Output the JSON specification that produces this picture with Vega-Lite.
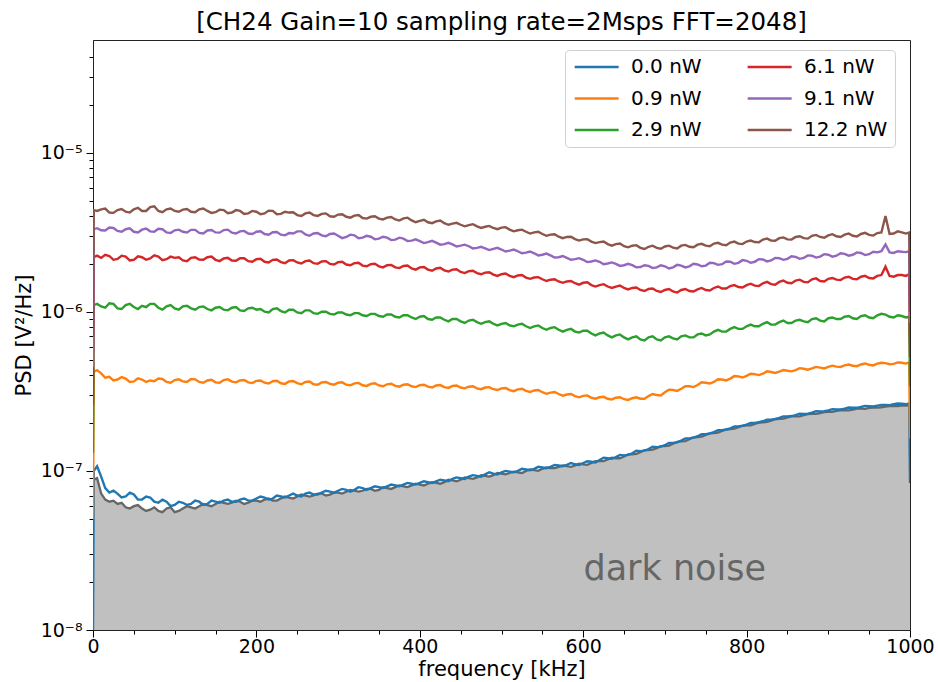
{
  "$schema": "https://vega.github.io/schema/vega-lite/v6.json",
  "width": 817,
  "height": 590,
  "autosize": {"type": "none"},
  "padding": {"left": 93, "top": 40, "right": 28, "bottom": 52},
  "background": "white",
  "title": {"text": "[CH24 Gain=10 sampling rate=2Msps FFT=2048]", "font": "DejaVu Sans", "fontSize": 24.5, "fontWeight": "normal", "color": "black", "offset": 5, "frame": "group"},
  "config": {
    "view": {"stroke": "#222", "strokeWidth": 1},
    "axis": {"labelFont": "DejaVu Sans", "titleFont": "DejaVu Sans", "labelFontSize": 19, "titleFontSize": 21, "labelColor": "black", "titleColor": "black", "tickColor": "black", "domainColor": "#222", "grid": false, "titleFontWeight": "normal", "labelOverlap": false, "labelFlush": false}
  },
  "datasets": {
    "psd": [
      {"f":0,"d":8.5e-8,"a":1e-8,"b":5e-8,"c":1.3e-7,"e":2.6e-7,"g":4.5e-7,"h":7e-7},
      {"f":1,"d":8.8e-8,"a":1.0e-7,"b":4.2e-7,"c":1.1e-6,"e":2.2e-6,"g":3.3e-6,"h":4.35e-6},
      {"f":5,"d":9e-8,"a":1.07e-7,"b":4.3e-7,"c":1.12e-6,"e":2.25e-6,"g":3.35e-6,"h":4.3e-6},
      {"f":10,"d":7.2e-8,"a":9.2e-8,"b":4.1e-7,"c":1.08e-6,"e":2.18e-6,"g":3.25e-6,"h":4.4e-6},
      {"f":15,"d":6.6e-8,"a":7.8e-8,"b":3.85e-7,"c":1.06e-6,"e":2.28e-6,"g":3.24e-6,"h":4.45e-6},
      {"f":20,"d":6.4e-8,"a":7.3e-8,"b":3.9e-7,"c":1.13e-6,"e":2.24e-6,"g":3.38e-6,"h":4.2e-6},
      {"f":25,"d":6.5e-8,"a":7.5e-8,"b":3.7e-7,"c":1.12e-6,"e":2.12e-6,"g":3.36e-6,"h":4.18e-6},
      {"f":30,"d":6.2e-8,"a":7.2e-8,"b":3.75e-7,"c":1.05e-6,"e":2.15e-6,"g":3.22e-6,"h":4.35e-6},
      {"f":35,"d":6.3e-8,"a":6.8e-8,"b":3.88e-7,"c":1.04e-6,"e":2.25e-6,"g":3.18e-6,"h":4.42e-6},
      {"f":40,"d":5.9e-8,"a":6.9e-8,"b":3.8e-7,"c":1.1e-6,"e":2.22e-6,"g":3.3e-6,"h":4.25e-6},
      {"f":45,"d":5.8e-8,"a":7.3e-8,"b":3.62e-7,"c":1.12e-6,"e":2.1e-6,"g":3.34e-6,"h":4.2e-6},
      {"f":50,"d":6.0e-8,"a":7.1e-8,"b":3.65e-7,"c":1.07e-6,"e":2.12e-6,"g":3.18e-6,"h":4.4e-6},
      {"f":55,"d":6.1e-8,"a":6.6e-8,"b":3.82e-7,"c":1.04e-6,"e":2.23e-6,"g":3.15e-6,"h":4.5e-6},
      {"f":60,"d":5.8e-8,"a":6.6e-8,"b":3.75e-7,"c":1.09e-6,"e":2.2e-6,"g":3.28e-6,"h":4.3e-6},
      {"f":65,"d":5.6e-8,"a":6.9e-8,"b":3.62e-7,"c":1.07e-6,"e":2.12e-6,"g":3.33e-6,"h":4.3e-6},
      {"f":70,"d":5.7e-8,"a":6.8e-8,"b":3.7e-7,"c":1.12e-6,"e":2.16e-6,"g":3.2e-6,"h":4.55e-6},
      {"f":75,"d":5.9e-8,"a":6.4e-8,"b":3.66e-7,"c":1.12e-6,"e":2.26e-6,"g":3.18e-6,"h":4.6e-6},
      {"f":80,"d":5.6e-8,"a":6.3e-8,"b":3.8e-7,"c":1.06e-6,"e":2.22e-6,"g":3.32e-6,"h":4.3e-6},
      {"f":85,"d":5.5e-8,"a":6.6e-8,"b":3.78e-7,"c":1.03e-6,"e":2.11e-6,"g":3.3e-6,"h":4.22e-6},
      {"f":90,"d":5.8e-8,"a":6.4e-8,"b":3.62e-7,"c":1.08e-6,"e":2.14e-6,"g":3.15e-6,"h":4.4e-6},
      {"f":95,"d":5.9e-8,"a":6.0e-8,"b":3.58e-7,"c":1.1e-6,"e":2.22e-6,"g":3.12e-6,"h":4.45e-6},
      {"f":100,"d":5.5e-8,"a":6.1e-8,"b":3.72e-7,"c":1.05e-6,"e":2.18e-6,"g":3.25e-6,"h":4.3e-6},
      {"f":105,"d":5.6e-8,"a":6.4e-8,"b":3.76e-7,"c":1.03e-6,"e":2.2e-6,"g":3.28e-6,"h":4.25e-6},
      {"f":110,"d":5.8e-8,"a":6.3e-8,"b":3.65e-7,"c":1.08e-6,"e":2.1e-6,"g":3.18e-6,"h":4.38e-6},
      {"f":115,"d":6.0e-8,"a":6.1e-8,"b":3.62e-7,"c":1.09e-6,"e":2.08e-6,"g":3.15e-6,"h":4.42e-6},
      {"f":120,"d":5.9e-8,"a":6.2e-8,"b":3.78e-7,"c":1.05e-6,"e":2.18e-6,"g":3.27e-6,"h":4.25e-6},
      {"f":125,"d":5.8e-8,"a":6.5e-8,"b":3.76e-7,"c":1.03e-6,"e":2.2e-6,"g":3.27e-6,"h":4.22e-6},
      {"f":130,"d":6.0e-8,"a":6.4e-8,"b":3.62e-7,"c":1.07e-6,"e":2.13e-6,"g":3.13e-6,"h":4.4e-6},
      {"f":135,"d":6.2e-8,"a":6.1e-8,"b":3.58e-7,"c":1.08e-6,"e":2.12e-6,"g":3.1e-6,"h":4.45e-6},
      {"f":140,"d":6.1e-8,"a":6.2e-8,"b":3.7e-7,"c":1.04e-6,"e":2.2e-6,"g":3.24e-6,"h":4.3e-6},
      {"f":145,"d":6.0e-8,"a":6.5e-8,"b":3.74e-7,"c":1.02e-6,"e":2.22e-6,"g":3.26e-6,"h":4.18e-6},
      {"f":150,"d":6.2e-8,"a":6.4e-8,"b":3.6e-7,"c":1.06e-6,"e":2.12e-6,"g":3.15e-6,"h":4.22e-6},
      {"f":155,"d":6.4e-8,"a":6.3e-8,"b":3.58e-7,"c":1.07e-6,"e":2.08e-6,"g":3.14e-6,"h":4.38e-6},
      {"f":160,"d":6.3e-8,"a":6.5e-8,"b":3.72e-7,"c":1.03e-6,"e":2.16e-6,"g":3.26e-6,"h":4.35e-6},
      {"f":165,"d":6.2e-8,"a":6.6e-8,"b":3.76e-7,"c":1.02e-6,"e":2.18e-6,"g":3.28e-6,"h":4.16e-6},
      {"f":170,"d":6.3e-8,"a":6.4e-8,"b":3.64e-7,"c":1.06e-6,"e":2.1e-6,"g":3.14e-6,"h":4.2e-6},
      {"f":175,"d":6.5e-8,"a":6.4e-8,"b":3.6e-7,"c":1.07e-6,"e":2.09e-6,"g":3.1e-6,"h":4.35e-6},
      {"f":180,"d":6.4e-8,"a":6.6e-8,"b":3.7e-7,"c":1.02e-6,"e":2.17e-6,"g":3.2e-6,"h":4.3e-6},
      {"f":185,"d":6.2e-8,"a":6.7e-8,"b":3.72e-7,"c":1.01e-6,"e":2.17e-6,"g":3.22e-6,"h":4.12e-6},
      {"f":190,"d":6.3e-8,"a":6.5e-8,"b":3.6e-7,"c":1.05e-6,"e":2.08e-6,"g":3.1e-6,"h":4.15e-6},
      {"f":195,"d":6.5e-8,"a":6.5e-8,"b":3.56e-7,"c":1.06e-6,"e":2.06e-6,"g":3.08e-6,"h":4.3e-6},
      {"f":200,"d":6.5e-8,"a":6.7e-8,"b":3.68e-7,"c":1.03e-6,"e":2.14e-6,"g":3.18e-6,"h":4.25e-6},
      {"f":205,"d":6.4e-8,"a":6.9e-8,"b":3.7e-7,"c":1.04e-6,"e":2.15e-6,"g":3.2e-6,"h":4.1e-6},
      {"f":210,"d":6.6e-8,"a":6.8e-8,"b":3.58e-7,"c":1.0e-6,"e":2.06e-6,"g":3.08e-6,"h":4.15e-6},
      {"f":215,"d":6.7e-8,"a":6.6e-8,"b":3.54e-7,"c":9.9e-7,"e":2.04e-6,"g":3.05e-6,"h":4.32e-6},
      {"f":220,"d":6.5e-8,"a":6.7e-8,"b":3.66e-7,"c":1.04e-6,"e":2.12e-6,"g":3.16e-6,"h":4.3e-6},
      {"f":225,"d":6.5e-8,"a":7.0e-8,"b":3.68e-7,"c":1.05e-6,"e":2.13e-6,"g":3.17e-6,"h":4.1e-6},
      {"f":230,"d":6.7e-8,"a":6.9e-8,"b":3.55e-7,"c":1.01e-6,"e":2.05e-6,"g":3.05e-6,"h":4.12e-6},
      {"f":235,"d":6.9e-8,"a":6.8e-8,"b":3.52e-7,"c":9.9e-7,"e":2.02e-6,"g":3.02e-6,"h":4.25e-6},
      {"f":240,"d":6.8e-8,"a":7.0e-8,"b":3.65e-7,"c":1.03e-6,"e":2.1e-6,"g":3.12e-6,"h":4.2e-6},
      {"f":245,"d":6.7e-8,"a":7.2e-8,"b":3.67e-7,"c":1.03e-6,"e":2.11e-6,"g":3.1e-6,"h":4.22e-6},
      {"f":250,"d":6.9e-8,"a":7.0e-8,"b":3.56e-7,"c":9.9e-7,"e":2.04e-6,"g":3.2e-6,"h":4.05e-6},
      {"f":255,"d":7.1e-8,"a":6.9e-8,"b":3.5e-7,"c":9.8e-7,"e":2.01e-6,"g":3.2e-6,"h":4.0e-6},
      {"f":260,"d":7.0e-8,"a":7.2e-8,"b":3.62e-7,"c":1.02e-6,"e":2.08e-6,"g":3.06e-6,"h":4.15e-6},
      {"f":265,"d":6.9e-8,"a":7.3e-8,"b":3.64e-7,"c":1.02e-6,"e":2.1e-6,"g":3.0e-6,"h":4.2e-6},
      {"f":270,"d":7.0e-8,"a":7.1e-8,"b":3.5e-7,"c":9.8e-7,"e":2.02e-6,"g":3.1e-6,"h":4.05e-6},
      {"f":275,"d":7.2e-8,"a":7.1e-8,"b":3.48e-7,"c":9.7e-7,"e":2.0e-6,"g":3.12e-6,"h":4.0e-6},
      {"f":280,"d":7.2e-8,"a":7.3e-8,"b":3.6e-7,"c":1.0e-6,"e":2.07e-6,"g":3.02e-6,"h":4.12e-6},
      {"f":285,"d":7.0e-8,"a":7.5e-8,"b":3.62e-7,"c":1.0e-6,"e":2.08e-6,"g":2.98e-6,"h":4.15e-6},
      {"f":290,"d":7.1e-8,"a":7.4e-8,"b":3.52e-7,"c":9.7e-7,"e":2.0e-6,"g":3.08e-6,"h":3.98e-6},
      {"f":295,"d":7.3e-8,"a":7.3e-8,"b":3.48e-7,"c":9.6e-7,"e":1.98e-6,"g":3.1e-6,"h":3.95e-6},
      {"f":300,"d":7.3e-8,"a":7.5e-8,"b":3.58e-7,"c":9.9e-7,"e":2.05e-6,"g":3.0e-6,"h":4.08e-6},
      {"f":305,"d":7.2e-8,"a":7.7e-8,"b":3.6e-7,"c":9.9e-7,"e":2.06e-6,"g":2.9e-6,"h":4.1e-6},
      {"f":310,"d":7.4e-8,"a":7.6e-8,"b":3.48e-7,"c":9.6e-7,"e":1.98e-6,"g":2.95e-6,"h":3.95e-6},
      {"f":315,"d":7.6e-8,"a":7.4e-8,"b":3.45e-7,"c":9.5e-7,"e":1.96e-6,"g":3.05e-6,"h":3.9e-6},
      {"f":320,"d":7.5e-8,"a":7.6e-8,"b":3.55e-7,"c":9.8e-7,"e":2.02e-6,"g":3.02e-6,"h":4.02e-6},
      {"f":325,"d":7.4e-8,"a":7.9e-8,"b":3.57e-7,"c":9.8e-7,"e":2.03e-6,"g":2.9e-6,"h":4.05e-6},
      {"f":330,"d":7.5e-8,"a":7.8e-8,"b":3.45e-7,"c":9.5e-7,"e":1.95e-6,"g":2.92e-6,"h":3.88e-6},
      {"f":335,"d":7.7e-8,"a":7.6e-8,"b":3.42e-7,"c":9.4e-7,"e":1.93e-6,"g":3.0e-6,"h":3.85e-6},
      {"f":340,"d":7.7e-8,"a":7.8e-8,"b":3.52e-7,"c":9.7e-7,"e":1.99e-6,"g":2.96e-6,"h":3.95e-6},
      {"f":345,"d":7.5e-8,"a":8.0e-8,"b":3.55e-7,"c":9.7e-7,"e":2.0e-6,"g":2.85e-6,"h":3.98e-6},
      {"f":350,"d":7.6e-8,"a":7.9e-8,"b":3.44e-7,"c":9.4e-7,"e":1.93e-6,"g":2.88e-6,"h":3.85e-6},
      {"f":355,"d":7.9e-8,"a":7.8e-8,"b":3.4e-7,"c":9.3e-7,"e":1.9e-6,"g":2.96e-6,"h":3.8e-6},
      {"f":360,"d":7.8e-8,"a":8.0e-8,"b":3.5e-7,"c":9.6e-7,"e":1.96e-6,"g":2.92e-6,"h":3.9e-6},
      {"f":365,"d":7.7e-8,"a":8.2e-8,"b":3.53e-7,"c":9.6e-7,"e":1.97e-6,"g":2.82e-6,"h":3.94e-6},
      {"f":370,"d":7.9e-8,"a":8.1e-8,"b":3.42e-7,"c":9.3e-7,"e":1.9e-6,"g":2.84e-6,"h":3.8e-6},
      {"f":375,"d":8.1e-8,"a":8.0e-8,"b":3.38e-7,"c":9.2e-7,"e":1.88e-6,"g":2.92e-6,"h":3.74e-6},
      {"f":380,"d":8.0e-8,"a":8.2e-8,"b":3.48e-7,"c":9.5e-7,"e":1.94e-6,"g":2.88e-6,"h":3.86e-6},
      {"f":385,"d":7.9e-8,"a":8.4e-8,"b":3.5e-7,"c":9.5e-7,"e":1.95e-6,"g":2.78e-6,"h":3.9e-6},
      {"f":390,"d":8.1e-8,"a":8.3e-8,"b":3.4e-7,"c":9.2e-7,"e":1.87e-6,"g":2.8e-6,"h":3.75e-6},
      {"f":395,"d":8.3e-8,"a":8.2e-8,"b":3.36e-7,"c":9.0e-7,"e":1.84e-6,"g":2.85e-6,"h":3.65e-6},
      {"f":400,"d":8.2e-8,"a":8.4e-8,"b":3.46e-7,"c":9.3e-7,"e":1.9e-6,"g":2.78e-6,"h":3.72e-6},
      {"f":405,"d":8.1e-8,"a":8.6e-8,"b":3.48e-7,"c":9.4e-7,"e":1.91e-6,"g":2.7e-6,"h":3.78e-6},
      {"f":410,"d":8.3e-8,"a":8.5e-8,"b":3.38e-7,"c":9.0e-7,"e":1.84e-6,"g":2.74e-6,"h":3.65e-6},
      {"f":415,"d":8.5e-8,"a":8.4e-8,"b":3.34e-7,"c":8.9e-7,"e":1.81e-6,"g":2.79e-6,"h":3.6e-6},
      {"f":420,"d":8.4e-8,"a":8.6e-8,"b":3.44e-7,"c":9.2e-7,"e":1.87e-6,"g":2.72e-6,"h":3.7e-6},
      {"f":425,"d":8.3e-8,"a":8.8e-8,"b":3.46e-7,"c":9.2e-7,"e":1.89e-6,"g":2.64e-6,"h":3.74e-6},
      {"f":430,"d":8.5e-8,"a":8.7e-8,"b":3.36e-7,"c":8.9e-7,"e":1.82e-6,"g":2.66e-6,"h":3.6e-6},
      {"f":435,"d":8.8e-8,"a":8.6e-8,"b":3.32e-7,"c":8.7e-7,"e":1.79e-6,"g":2.71e-6,"h":3.52e-6},
      {"f":440,"d":8.7e-8,"a":8.9e-8,"b":3.42e-7,"c":9.0e-7,"e":1.84e-6,"g":2.65e-6,"h":3.58e-6},
      {"f":445,"d":8.6e-8,"a":9.1e-8,"b":3.44e-7,"c":9.0e-7,"e":1.85e-6,"g":2.57e-6,"h":3.62e-6},
      {"f":450,"d":8.8e-8,"a":9.0e-8,"b":3.34e-7,"c":8.7e-7,"e":1.78e-6,"g":2.6e-6,"h":3.52e-6},
      {"f":455,"d":9.1e-8,"a":8.9e-8,"b":3.3e-7,"c":8.5e-7,"e":1.75e-6,"g":2.64e-6,"h":3.44e-6},
      {"f":460,"d":9.0e-8,"a":9.2e-8,"b":3.38e-7,"c":8.8e-7,"e":1.8e-6,"g":2.58e-6,"h":3.5e-6},
      {"f":465,"d":8.9e-8,"a":9.4e-8,"b":3.4e-7,"c":8.9e-7,"e":1.81e-6,"g":2.5e-6,"h":3.55e-6},
      {"f":470,"d":9.1e-8,"a":9.3e-8,"b":3.3e-7,"c":8.6e-7,"e":1.75e-6,"g":2.52e-6,"h":3.44e-6},
      {"f":475,"d":9.4e-8,"a":9.2e-8,"b":3.26e-7,"c":8.4e-7,"e":1.72e-6,"g":2.56e-6,"h":3.36e-6},
      {"f":480,"d":9.3e-8,"a":9.5e-8,"b":3.34e-7,"c":8.6e-7,"e":1.76e-6,"g":2.5e-6,"h":3.42e-6},
      {"f":485,"d":9.2e-8,"a":9.8e-8,"b":3.36e-7,"c":8.7e-7,"e":1.77e-6,"g":2.44e-6,"h":3.46e-6},
      {"f":490,"d":9.4e-8,"a":9.6e-8,"b":3.26e-7,"c":8.4e-7,"e":1.71e-6,"g":2.48e-6,"h":3.36e-6},
      {"f":495,"d":9.7e-8,"a":9.5e-8,"b":3.22e-7,"c":8.2e-7,"e":1.68e-6,"g":2.52e-6,"h":3.3e-6},
      {"f":500,"d":9.6e-8,"a":9.8e-8,"b":3.3e-7,"c":8.4e-7,"e":1.72e-6,"g":2.46e-6,"h":3.38e-6},
      {"f":505,"d":9.5e-8,"a":1.0e-7,"b":3.32e-7,"c":8.5e-7,"e":1.74e-6,"g":2.39e-6,"h":3.4e-6},
      {"f":510,"d":9.7e-8,"a":9.9e-8,"b":3.22e-7,"c":8.2e-7,"e":1.68e-6,"g":2.42e-6,"h":3.28e-6},
      {"f":515,"d":9.9e-8,"a":9.8e-8,"b":3.17e-7,"c":8.1e-7,"e":1.65e-6,"g":2.46e-6,"h":3.2e-6},
      {"f":520,"d":9.8e-8,"a":1.0e-7,"b":3.25e-7,"c":8.3e-7,"e":1.69e-6,"g":2.4e-6,"h":3.25e-6},
      {"f":525,"d":9.7e-8,"a":1.03e-7,"b":3.28e-7,"c":8.4e-7,"e":1.7e-6,"g":2.33e-6,"h":3.28e-6},
      {"f":530,"d":1.0e-7,"a":1.02e-7,"b":3.18e-7,"c":8.1e-7,"e":1.64e-6,"g":2.35e-6,"h":3.18e-6},
      {"f":535,"d":1.02e-7,"a":1.01e-7,"b":3.13e-7,"c":7.9e-7,"e":1.61e-6,"g":2.39e-6,"h":3.1e-6},
      {"f":540,"d":1.01e-7,"a":1.03e-7,"b":3.2e-7,"c":8.1e-7,"e":1.64e-6,"g":2.33e-6,"h":3.15e-6},
      {"f":545,"d":1.0e-7,"a":1.06e-7,"b":3.22e-7,"c":8.2e-7,"e":1.65e-6,"g":2.26e-6,"h":3.18e-6},
      {"f":550,"d":1.03e-7,"a":1.05e-7,"b":3.12e-7,"c":7.9e-7,"e":1.6e-6,"g":2.28e-6,"h":3.08e-6},
      {"f":555,"d":1.05e-7,"a":1.04e-7,"b":3.05e-7,"c":7.7e-7,"e":1.56e-6,"g":2.32e-6,"h":3.0e-6},
      {"f":560,"d":1.04e-7,"a":1.06e-7,"b":3.1e-7,"c":7.9e-7,"e":1.59e-6,"g":2.26e-6,"h":3.05e-6},
      {"f":565,"d":1.04e-7,"a":1.09e-7,"b":3.13e-7,"c":8.0e-7,"e":1.6e-6,"g":2.19e-6,"h":3.07e-6},
      {"f":570,"d":1.06e-7,"a":1.08e-7,"b":3.04e-7,"c":7.7e-7,"e":1.55e-6,"g":2.2e-6,"h":2.96e-6},
      {"f":575,"d":1.08e-7,"a":1.07e-7,"b":2.97e-7,"c":7.5e-7,"e":1.52e-6,"g":2.24e-6,"h":2.9e-6},
      {"f":580,"d":1.07e-7,"a":1.09e-7,"b":3.02e-7,"c":7.7e-7,"e":1.55e-6,"g":2.18e-6,"h":2.95e-6},
      {"f":585,"d":1.06e-7,"a":1.12e-7,"b":3.04e-7,"c":7.8e-7,"e":1.56e-6,"g":2.12e-6,"h":2.96e-6},
      {"f":590,"d":1.08e-7,"a":1.1e-7,"b":2.95e-7,"c":7.5e-7,"e":1.51e-6,"g":2.14e-6,"h":2.86e-6},
      {"f":595,"d":1.11e-7,"a":1.09e-7,"b":2.9e-7,"c":7.4e-7,"e":1.48e-6,"g":2.17e-6,"h":2.8e-6},
      {"f":600,"d":1.1e-7,"a":1.12e-7,"b":2.96e-7,"c":7.6e-7,"e":1.52e-6,"g":2.12e-6,"h":2.85e-6},
      {"f":605,"d":1.09e-7,"a":1.15e-7,"b":2.98e-7,"c":7.6e-7,"e":1.53e-6,"g":2.05e-6,"h":2.86e-6},
      {"f":610,"d":1.12e-7,"a":1.14e-7,"b":2.88e-7,"c":7.3e-7,"e":1.47e-6,"g":2.07e-6,"h":2.76e-6},
      {"f":615,"d":1.15e-7,"a":1.13e-7,"b":2.84e-7,"c":7.1e-7,"e":1.44e-6,"g":2.1e-6,"h":2.7e-6},
      {"f":620,"d":1.15e-7,"a":1.17e-7,"b":2.9e-7,"c":7.3e-7,"e":1.47e-6,"g":2.06e-6,"h":2.74e-6},
      {"f":625,"d":1.15e-7,"a":1.21e-7,"b":2.92e-7,"c":7.4e-7,"e":1.49e-6,"g":1.99e-6,"h":2.76e-6},
      {"f":630,"d":1.18e-7,"a":1.2e-7,"b":2.84e-7,"c":7.1e-7,"e":1.44e-6,"g":2.01e-6,"h":2.66e-6},
      {"f":635,"d":1.21e-7,"a":1.19e-7,"b":2.81e-7,"c":6.9e-7,"e":1.41e-6,"g":2.04e-6,"h":2.6e-6},
      {"f":640,"d":1.2e-7,"a":1.22e-7,"b":2.88e-7,"c":7.1e-7,"e":1.44e-6,"g":2.0e-6,"h":2.66e-6},
      {"f":645,"d":1.2e-7,"a":1.26e-7,"b":2.9e-7,"c":7.2e-7,"e":1.46e-6,"g":1.94e-6,"h":2.68e-6},
      {"f":650,"d":1.23e-7,"a":1.25e-7,"b":2.82e-7,"c":6.9e-7,"e":1.41e-6,"g":1.96e-6,"h":2.58e-6},
      {"f":655,"d":1.27e-7,"a":1.26e-7,"b":2.79e-7,"c":6.7e-7,"e":1.38e-6,"g":2.0e-6,"h":2.54e-6},
      {"f":660,"d":1.27e-7,"a":1.29e-7,"b":2.86e-7,"c":6.9e-7,"e":1.41e-6,"g":1.96e-6,"h":2.6e-6},
      {"f":665,"d":1.28e-7,"a":1.34e-7,"b":2.9e-7,"c":7.0e-7,"e":1.42e-6,"g":1.9e-6,"h":2.62e-6},
      {"f":670,"d":1.31e-7,"a":1.33e-7,"b":2.84e-7,"c":6.7e-7,"e":1.37e-6,"g":1.91e-6,"h":2.52e-6},
      {"f":675,"d":1.35e-7,"a":1.34e-7,"b":2.84e-7,"c":6.6e-7,"e":1.35e-6,"g":1.96e-6,"h":2.48e-6},
      {"f":680,"d":1.35e-7,"a":1.37e-7,"b":2.95e-7,"c":6.9e-7,"e":1.39e-6,"g":1.94e-6,"h":2.56e-6},
      {"f":685,"d":1.36e-7,"a":1.42e-7,"b":3.04e-7,"c":7.0e-7,"e":1.4e-6,"g":1.88e-6,"h":2.6e-6},
      {"f":690,"d":1.39e-7,"a":1.41e-7,"b":3.0e-7,"c":6.7e-7,"e":1.35e-6,"g":1.9e-6,"h":2.52e-6},
      {"f":695,"d":1.43e-7,"a":1.42e-7,"b":2.98e-7,"c":6.6e-7,"e":1.33e-6,"g":1.96e-6,"h":2.49e-6},
      {"f":700,"d":1.43e-7,"a":1.45e-7,"b":3.12e-7,"c":6.9e-7,"e":1.37e-6,"g":1.93e-6,"h":2.57e-6},
      {"f":705,"d":1.44e-7,"a":1.5e-7,"b":3.24e-7,"c":7.0e-7,"e":1.39e-6,"g":1.87e-6,"h":2.6e-6},
      {"f":710,"d":1.48e-7,"a":1.5e-7,"b":3.22e-7,"c":6.8e-7,"e":1.34e-6,"g":1.9e-6,"h":2.53e-6},
      {"f":715,"d":1.52e-7,"a":1.51e-7,"b":3.18e-7,"c":6.7e-7,"e":1.32e-6,"g":1.97e-6,"h":2.5e-6},
      {"f":720,"d":1.53e-7,"a":1.55e-7,"b":3.28e-7,"c":7.0e-7,"e":1.37e-6,"g":1.95e-6,"h":2.6e-6},
      {"f":725,"d":1.54e-7,"a":1.6e-7,"b":3.4e-7,"c":7.1e-7,"e":1.39e-6,"g":1.9e-6,"h":2.63e-6},
      {"f":730,"d":1.58e-7,"a":1.6e-7,"b":3.4e-7,"c":6.9e-7,"e":1.35e-6,"g":1.93e-6,"h":2.56e-6},
      {"f":735,"d":1.62e-7,"a":1.62e-7,"b":3.36e-7,"c":6.9e-7,"e":1.34e-6,"g":2.0e-6,"h":2.54e-6},
      {"f":740,"d":1.63e-7,"a":1.65e-7,"b":3.46e-7,"c":7.2e-7,"e":1.38e-6,"g":1.98e-6,"h":2.64e-6},
      {"f":745,"d":1.64e-7,"a":1.7e-7,"b":3.6e-7,"c":7.3e-7,"e":1.41e-6,"g":1.93e-6,"h":2.67e-6},
      {"f":750,"d":1.68e-7,"a":1.7e-7,"b":3.58e-7,"c":7.1e-7,"e":1.37e-6,"g":1.95e-6,"h":2.6e-6},
      {"f":755,"d":1.72e-7,"a":1.72e-7,"b":3.54e-7,"c":7.2e-7,"e":1.36e-6,"g":2.03e-6,"h":2.58e-6},
      {"f":760,"d":1.73e-7,"a":1.75e-7,"b":3.62e-7,"c":7.5e-7,"e":1.41e-6,"g":2.02e-6,"h":2.68e-6},
      {"f":765,"d":1.74e-7,"a":1.8e-7,"b":3.76e-7,"c":7.7e-7,"e":1.44e-6,"g":1.97e-6,"h":2.71e-6},
      {"f":770,"d":1.78e-7,"a":1.8e-7,"b":3.75e-7,"c":7.5e-7,"e":1.4e-6,"g":1.99e-6,"h":2.64e-6},
      {"f":775,"d":1.82e-7,"a":1.82e-7,"b":3.7e-7,"c":7.5e-7,"e":1.4e-6,"g":2.07e-6,"h":2.62e-6},
      {"f":780,"d":1.83e-7,"a":1.85e-7,"b":3.8e-7,"c":7.8e-7,"e":1.45e-6,"g":2.06e-6,"h":2.72e-6},
      {"f":785,"d":1.84e-7,"a":1.9e-7,"b":3.94e-7,"c":8.0e-7,"e":1.47e-6,"g":2.0e-6,"h":2.76e-6},
      {"f":790,"d":1.88e-7,"a":1.9e-7,"b":3.92e-7,"c":7.8e-7,"e":1.43e-6,"g":2.03e-6,"h":2.68e-6},
      {"f":795,"d":1.92e-7,"a":1.92e-7,"b":3.86e-7,"c":7.8e-7,"e":1.42e-6,"g":2.11e-6,"h":2.66e-6},
      {"f":800,"d":1.93e-7,"a":1.95e-7,"b":3.95e-7,"c":8.1e-7,"e":1.47e-6,"g":2.09e-6,"h":2.76e-6},
      {"f":805,"d":1.93e-7,"a":2.0e-7,"b":4.08e-7,"c":8.3e-7,"e":1.5e-6,"g":2.03e-6,"h":2.8e-6},
      {"f":810,"d":1.97e-7,"a":2.0e-7,"b":4.05e-7,"c":8.1e-7,"e":1.46e-6,"g":2.06e-6,"h":2.74e-6},
      {"f":815,"d":2.01e-7,"a":2.02e-7,"b":4.0e-7,"c":8.1e-7,"e":1.45e-6,"g":2.14e-6,"h":2.73e-6},
      {"f":820,"d":2.02e-7,"a":2.05e-7,"b":4.08e-7,"c":8.4e-7,"e":1.51e-6,"g":2.13e-6,"h":2.84e-6},
      {"f":825,"d":2.03e-7,"a":2.1e-7,"b":4.22e-7,"c":8.6e-7,"e":1.54e-6,"g":2.07e-6,"h":2.88e-6},
      {"f":830,"d":2.07e-7,"a":2.1e-7,"b":4.18e-7,"c":8.3e-7,"e":1.49e-6,"g":2.1e-6,"h":2.8e-6},
      {"f":835,"d":2.11e-7,"a":2.12e-7,"b":4.12e-7,"c":8.3e-7,"e":1.48e-6,"g":2.18e-6,"h":2.79e-6},
      {"f":840,"d":2.12e-7,"a":2.15e-7,"b":4.2e-7,"c":8.6e-7,"e":1.54e-6,"g":2.17e-6,"h":2.9e-6},
      {"f":845,"d":2.13e-7,"a":2.2e-7,"b":4.3e-7,"c":8.8e-7,"e":1.57e-6,"g":2.12e-6,"h":2.93e-6},
      {"f":850,"d":2.17e-7,"a":2.2e-7,"b":4.26e-7,"c":8.5e-7,"e":1.52e-6,"g":2.15e-6,"h":2.85e-6},
      {"f":855,"d":2.2e-7,"a":2.21e-7,"b":4.22e-7,"c":8.5e-7,"e":1.51e-6,"g":2.23e-6,"h":2.84e-6},
      {"f":860,"d":2.2e-7,"a":2.24e-7,"b":4.3e-7,"c":8.8e-7,"e":1.57e-6,"g":2.21e-6,"h":2.95e-6},
      {"f":865,"d":2.2e-7,"a":2.29e-7,"b":4.42e-7,"c":8.9e-7,"e":1.59e-6,"g":2.15e-6,"h":2.98e-6},
      {"f":870,"d":2.24e-7,"a":2.28e-7,"b":4.38e-7,"c":8.7e-7,"e":1.54e-6,"g":2.18e-6,"h":2.9e-6},
      {"f":875,"d":2.27e-7,"a":2.29e-7,"b":4.32e-7,"c":8.6e-7,"e":1.53e-6,"g":2.26e-6,"h":2.88e-6},
      {"f":880,"d":2.28e-7,"a":2.32e-7,"b":4.4e-7,"c":9.0e-7,"e":1.6e-6,"g":2.25e-6,"h":3.0e-6},
      {"f":885,"d":2.28e-7,"a":2.37e-7,"b":4.5e-7,"c":9.1e-7,"e":1.62e-6,"g":2.19e-6,"h":3.04e-6},
      {"f":890,"d":2.31e-7,"a":2.36e-7,"b":4.45e-7,"c":8.8e-7,"e":1.56e-6,"g":2.22e-6,"h":2.95e-6},
      {"f":895,"d":2.34e-7,"a":2.37e-7,"b":4.4e-7,"c":8.7e-7,"e":1.55e-6,"g":2.3e-6,"h":2.92e-6},
      {"f":900,"d":2.35e-7,"a":2.4e-7,"b":4.5e-7,"c":9.1e-7,"e":1.61e-6,"g":2.28e-6,"h":3.02e-6},
      {"f":905,"d":2.35e-7,"a":2.44e-7,"b":4.58e-7,"c":9.2e-7,"e":1.63e-6,"g":2.22e-6,"h":3.07e-6},
      {"f":910,"d":2.38e-7,"a":2.43e-7,"b":4.52e-7,"c":9.0e-7,"e":1.59e-6,"g":2.25e-6,"h":2.98e-6},
      {"f":915,"d":2.4e-7,"a":2.43e-7,"b":4.5e-7,"c":9.0e-7,"e":1.58e-6,"g":2.33e-6,"h":2.95e-6},
      {"f":920,"d":2.41e-7,"a":2.46e-7,"b":4.6e-7,"c":9.3e-7,"e":1.64e-6,"g":2.31e-6,"h":3.05e-6},
      {"f":925,"d":2.4e-7,"a":2.5e-7,"b":4.66e-7,"c":9.4e-7,"e":1.66e-6,"g":2.25e-6,"h":3.1e-6},
      {"f":930,"d":2.43e-7,"a":2.49e-7,"b":4.58e-7,"c":9.1e-7,"e":1.61e-6,"g":2.28e-6,"h":3.0e-6},
      {"f":935,"d":2.46e-7,"a":2.49e-7,"b":4.55e-7,"c":9.0e-7,"e":1.6e-6,"g":2.36e-6,"h":2.97e-6},
      {"f":940,"d":2.46e-7,"a":2.52e-7,"b":4.66e-7,"c":9.4e-7,"e":1.66e-6,"g":2.34e-6,"h":3.08e-6},
      {"f":945,"d":2.45e-7,"a":2.56e-7,"b":4.73e-7,"c":9.5e-7,"e":1.68e-6,"g":2.27e-6,"h":3.13e-6},
      {"f":950,"d":2.49e-7,"a":2.55e-7,"b":4.64e-7,"c":9.2e-7,"e":1.63e-6,"g":2.3e-6,"h":3.04e-6},
      {"f":955,"d":2.5e-7,"a":2.54e-7,"b":4.6e-7,"c":9.1e-7,"e":1.62e-6,"g":2.38e-6,"h":3.01e-6},
      {"f":960,"d":2.5e-7,"a":2.57e-7,"b":4.72e-7,"c":9.5e-7,"e":1.68e-6,"g":2.36e-6,"h":3.12e-6},
      {"f":965,"d":2.51e-7,"a":2.6e-7,"b":4.78e-7,"c":9.7e-7,"e":1.7e-6,"g":2.4e-6,"h":3.15e-6},
      {"f":970,"d":2.53e-7,"a":2.6e-7,"b":4.75e-7,"c":9.6e-7,"e":1.92e-6,"g":2.65e-6,"h":4.0e-6},
      {"f":975,"d":2.55e-7,"a":2.59e-7,"b":4.68e-7,"c":9.3e-7,"e":1.68e-6,"g":2.36e-6,"h":3.08e-6},
      {"f":980,"d":2.55e-7,"a":2.62e-7,"b":4.7e-7,"c":9.2e-7,"e":1.66e-6,"g":2.34e-6,"h":3.1e-6},
      {"f":985,"d":2.55e-7,"a":2.65e-7,"b":4.8e-7,"c":9.5e-7,"e":1.7e-6,"g":2.4e-6,"h":3.2e-6},
      {"f":990,"d":2.57e-7,"a":2.64e-7,"b":4.78e-7,"c":9.4e-7,"e":1.7e-6,"g":2.38e-6,"h":3.15e-6},
      {"f":995,"d":2.57e-7,"a":2.62e-7,"b":4.72e-7,"c":9.2e-7,"e":1.68e-6,"g":2.37e-6,"h":3.1e-6},
      {"f":999,"d":2.58e-7,"a":2.66e-7,"b":4.8e-7,"c":9.3e-7,"e":1.72e-6,"g":2.4e-6,"h":3.15e-6},
      {"f":1000,"d":2.58e-7,"a":8.4e-8,"b":1.6e-7,"c":3.4e-7,"e":5.2e-7,"g":8.5e-7,"h":1.0e-6}
    ],
    "note": [{"f": 712, "v": 2.4e-8, "label": "dark noise"}]
  },
  "layer": [
    {
      "data": {"name": "psd"},
      "mark": {"type": "area", "color": "#c0c0c0", "clip": true},
      "encoding": {
        "x": {"field": "f", "type": "quantitative", "title": "frequency [kHz]",
          "scale": {"domain": [0, 1000], "nice": false, "zero": false},
          "axis": {"values": [0,50,100,150,200,250,300,350,400,450,500,550,600,650,700,750,800,850,900,950,1000],
            "format": "d",
            "labelExpr": "datum.value % 200 == 0 ? datum.label : ''",
            "tickSize": {"condition": {"test": "datum.value % 200 == 0", "value": 7}, "value": 4},
            "labelPadding": 0, "titlePadding": 2}},
        "y": {"field": "d", "type": "quantitative", "title": "PSD [V²/Hz]",
          "scale": {"type": "log", "domain": [1e-8, 5.1e-5], "nice": false},
          "axis": {"values": [1e-8,2e-8,3e-8,4e-8,5e-8,6e-8,7e-8,8e-8,9e-8,1e-7,2e-7,3e-7,4e-7,5e-7,6e-7,7e-7,8e-7,9e-7,1e-6,2e-6,3e-6,4e-6,5e-6,6e-6,7e-6,8e-6,9e-6,1e-5,2e-5,3e-5,4e-5],
            "labelExpr": "datum.value == 1e-8 ? '10⁻⁸' : datum.value == 1e-7 ? '10⁻⁷' : datum.value == 1e-6 ? '10⁻⁶' : datum.value == 1e-5 ? '10⁻⁵' : ''",
            "tickSize": {"condition": {"test": "datum.value == 1e-8 || datum.value == 1e-7 || datum.value == 1e-6 || datum.value == 1e-5", "value": 7}, "value": 4},
            "labelPadding": 4, "titlePadding": 6}},
        "y2": {"datum": 1e-8}
      }
    },
    {
      "data": {"name": "psd"},
      "mark": {"type": "line", "color": "#666666", "strokeWidth": 2.3, "clip": true},
      "encoding": {
        "x": {"field": "f", "type": "quantitative", "title": "frequency [kHz]"},
        "y": {"field": "d", "type": "quantitative", "title": "PSD [V²/Hz]"}
      }
    },
    {
      "data": {"name": "psd"},
      "transform": [{"fold": ["a", "b", "c", "e", "g", "h"], "as": ["s", "v"]}],
      "mark": {"type": "line", "strokeWidth": 2.4, "clip": true},
      "encoding": {
        "x": {"field": "f", "type": "quantitative", "title": "frequency [kHz]"},
        "y": {"field": "v", "type": "quantitative", "title": "PSD [V²/Hz]"},
        "color": {"field": "s", "type": "nominal",
          "scale": {"domain": ["a", "b", "c", "e", "g", "h"], "range": ["#1f77b4", "#ff7f0e", "#2ca02c", "#d62728", "#9467bd", "#8c564b"]},
          "legend": {"title": null, "orient": "none", "legendX": 472, "legendY": 10, "columns": 2,
            "labelExpr": "datum.value == 'a' ? '0.0 nW' : datum.value == 'b' ? '0.9 nW' : datum.value == 'c' ? '2.9 nW' : datum.value == 'e' ? '6.1 nW' : datum.value == 'g' ? '9.1 nW' : '12.2 nW'",
            "symbolType": "M-1,0H5", "symbolSize": 215, "symbolStrokeWidth": 2.5,
            "labelFont": "DejaVu Sans", "labelFontSize": 20, "labelColor": "black", "labelOffset": 39,
            "fillColor": "white", "strokeColor": "#d0d0d0", "cornerRadius": 4, "padding": 7,
            "rowPadding": 11.5, "columnPadding": 40}}
      }
    },
    {
      "data": {"name": "note"},
      "mark": {"type": "text", "font": "DejaVu Sans", "fontSize": 35, "color": "#666666", "align": "center", "baseline": "middle"},
      "encoding": {
        "x": {"field": "f", "type": "quantitative", "title": "frequency [kHz]"},
        "y": {"field": "v", "type": "quantitative", "title": "PSD [V²/Hz]"},
        "text": {"field": "label"}
      }
    }
  ]
}
